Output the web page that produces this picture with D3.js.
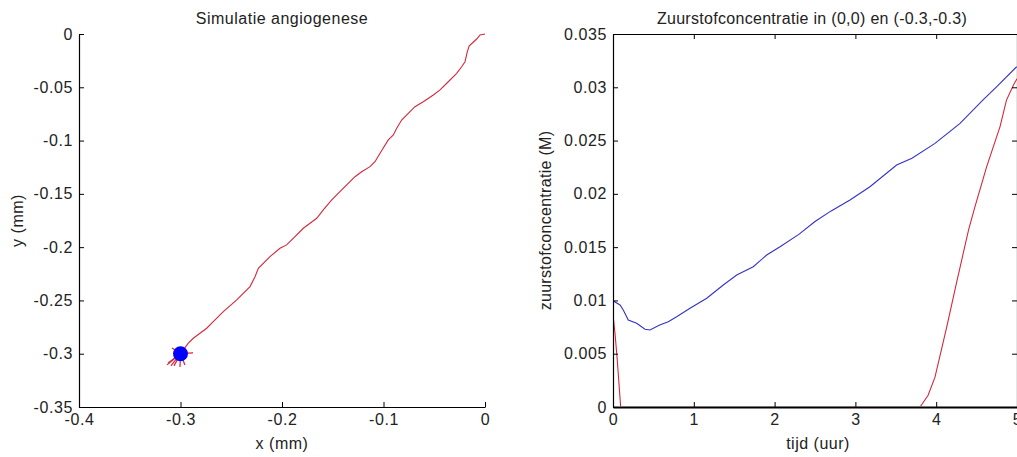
<!DOCTYPE html>
<html>
<head>
<meta charset="utf-8">
<script src="https://cdn.jsdelivr.net/npm/d3@7"></script>
<style>
  html, body { margin: 0; padding: 0; background: #fff; }
  svg { display: block; }
  text { font-family: "Liberation Sans", Arial, Helvetica, sans-serif; fill: #222; }
</style>
</head>
<body>
<svg id="chart" width="1017" height="457"></svg>
<script>
// ---- Left panel: vessel path (mm) ----
const vesselX = [0, -0.0049, -0.0082, -0.0155, -0.0174, -0.0197, -0.023, -0.0279, -0.0377, -0.0443,
  -0.0509, -0.0608, -0.069, -0.0756, -0.0821, -0.087, -0.0903, -0.0953, -0.1034, -0.1084,
  -0.1133, -0.1215, -0.1281, -0.133, -0.1412, -0.151, -0.1593, -0.1658, -0.1724, -0.179,
  -0.1872, -0.1954, -0.202, -0.2118, -0.2233, -0.2266, -0.2315, -0.2446, -0.2578, -0.2677,
  -0.2742, -0.2808, -0.2874, -0.2923, -0.2972, -0.3];
const vesselY = [0, -0.0009, -0.0047, -0.011, -0.0166, -0.026, -0.0307, -0.0369, -0.0462, -0.0525,
  -0.0572, -0.0635, -0.0682, -0.0744, -0.0807, -0.0885, -0.0947, -0.0994, -0.1119, -0.1198,
  -0.1245, -0.1292, -0.1339, -0.1386, -0.1463, -0.1557, -0.1651, -0.1729, -0.1776, -0.1823,
  -0.1901, -0.1979, -0.201, -0.2089, -0.2198, -0.2277, -0.237, -0.2495, -0.2605, -0.2699,
  -0.2761, -0.2808, -0.2855, -0.2901, -0.2964, -0.3];
// small sprouts around the tumour centre
const tumourX = -0.3, tumourY = -0.3;
const sproutTipX = [-0.3133, -0.3123, -0.3094, -0.3064, -0.3005, -0.2956, -0.2877, -0.3084];
const sproutTipY = [-0.3105, -0.3086, -0.3114, -0.3114, -0.3124, -0.3105, -0.2992, -0.2946];
const leftXTicks = [-0.4, -0.3, -0.2, -0.1, 0];
const leftXTickLabels = ["-0.4", "-0.3", "-0.2", "-0.1", "0"];
const leftYTicks = [0, -0.05, -0.1, -0.15, -0.2, -0.25, -0.3, -0.35];
const leftYTickLabels = ["0", "-0.05", "-0.1", "-0.15", "-0.2", "-0.25", "-0.3", "-0.35"];

// ---- Right panel: oxygen concentration over time ----
const timeA = [0.004, 0.087, 0.127, 0.189, 0.293, 0.396, 0.458, 0.578, 0.684, 0.788, 0.953, 1.16,
  1.365, 1.531, 1.736, 1.902, 2.067, 2.3, 2.5, 2.7, 2.933, 3.18, 3.51, 3.70, 3.985, 4.295, 4.58, 4.75, 4.996];
const concA = [0.00995, 0.00957, 0.0091, 0.00816, 0.00785, 0.00729, 0.00723, 0.00769, 0.0080, 0.00847,
  0.00926, 0.0102, 0.01145, 0.01239, 0.01316, 0.01426, 0.01504, 0.0162, 0.0174, 0.0184, 0.01942,
  0.02067, 0.0227, 0.02334, 0.02474, 0.02662, 0.02881, 0.03006, 0.03193];
const timeB = [0, 0.025, 0.053, 0.095, 3.80, 3.90, 3.985, 4.13, 4.25, 4.40, 4.48, 4.625, 4.79, 4.87, 4.955, 5.0];
const concB = [0.00863, 0.0069, 0.0044, 0, 0, 0.0011, 0.0028, 0.0075, 0.0116, 0.0166, 0.0188, 0.02255,
  0.0263, 0.0288, 0.0302, 0.0308];
const rightXTicks = [0, 1, 2, 3, 4, 5];
const rightXTickLabels = ["0", "1", "2", "3", "4", "5"];
const rightYTicks = [0, 0.005, 0.01, 0.015, 0.02, 0.025, 0.03, 0.035];
const rightYTickLabels = ["0", "0.005", "0.01", "0.015", "0.02", "0.025", "0.03", "0.035"];

const svg = d3.select("#chart");
const FONT = 16;
const RED = "#d2283c", BLUE = "#3232c8";

function labelledAxis(axis, ticks, labels) {
  return axis.tickValues(ticks).tickFormat((d, i) => labels[i]);
}
function styleAxis(g) {
  g.selectAll("path.domain").attr("stroke", "#000").attr("stroke-width", 1.2);
  g.selectAll(".tick line").attr("stroke", "#000");
  g.selectAll(".tick text").attr("font-size", FONT).style("letter-spacing", "0.6px").attr("fill", "#222");
}

// ===== Left panel =====
const L = { left: 79, right: 485, top: 34, bottom: 407 };
const xL = d3.scaleLinear().domain([-0.4, 0]).range([L.left, L.right]);
const yL = d3.scaleLinear().domain([-0.35, 0]).range([L.bottom, L.top]);

const gLx = svg.append("g").attr("transform", `translate(0,${L.bottom})`)
  .call(labelledAxis(d3.axisBottom(xL), leftXTicks, leftXTickLabels).tickSizeInner(-5).tickSizeOuter(0).tickPadding(7));
styleAxis(gLx);
const gLy = svg.append("g").attr("transform", `translate(${L.left},0)`)
  .call(labelledAxis(d3.axisLeft(yL), leftYTicks, leftYTickLabels).tickSizeInner(-5).tickSizeOuter(0).tickPadding(6));
styleAxis(gLy);

const vessel = d3.range(vesselX.length).map(i => [vesselX[i], vesselY[i]]);
svg.append("path")
  .datum(vessel)
  .attr("fill", "none").attr("stroke", RED).attr("stroke-width", 1.1)
  .attr("d", d3.line().x(d => xL(d[0])).y(d => yL(d[1])));

svg.append("g").selectAll("line")
  .data(d3.range(sproutTipX.length))
  .join("line")
  .attr("x1", xL(tumourX)).attr("y1", yL(tumourY))
  .attr("x2", i => xL(sproutTipX[i])).attr("y2", i => yL(sproutTipY[i]))
  .attr("stroke", RED).attr("stroke-width", 1.2);

svg.append("circle")
  .attr("cx", xL(tumourX)).attr("cy", yL(tumourY)).attr("r", 7.5)
  .attr("fill", "#0000ff");

svg.append("text").attr("x", (L.left + L.right) / 2).attr("y", 24)
  .attr("text-anchor", "middle").attr("font-size", FONT).style("letter-spacing", "0.5px")
  .text("Simulatie angiogenese");
svg.append("text").attr("x", (L.left + L.right) / 2).attr("y", 449)
  .attr("text-anchor", "middle").attr("font-size", FONT).style("letter-spacing", "0.5px")
  .text("x (mm)");
svg.append("text")
  .attr("transform", `translate(23,${(L.top + L.bottom) / 2}) rotate(-90)`)
  .attr("text-anchor", "middle").attr("font-size", FONT).style("letter-spacing", "0.5px")
  .text("y (mm)");

// ===== Right panel =====
const R = { left: 613, right: 1017, top: 34, bottom: 407 };
const xR = d3.scaleLinear().domain([0, 5]).range([R.left, R.right]);
const yR = d3.scaleLinear().domain([0, 0.035]).range([R.bottom, R.top]);

// lines stay inside the plot box; the stretch at zero sits under the x axis
svg.append("clipPath").attr("id", "clipR")
  .append("rect").attr("x", R.left).attr("y", R.top - 2)
  .attr("width", R.right - R.left).attr("height", (R.bottom - 0.8) - (R.top - 2));

const pointsA = d3.range(timeA.length).map(i => [timeA[i], concA[i]]);
const pointsB = d3.range(timeB.length).map(i => [timeB[i], concB[i]]);
const lineR = d3.line().x(d => xR(d[0])).y(d => yR(d[1]));
const gLines = svg.append("g").attr("clip-path", "url(#clipR)");
gLines.append("path").datum(pointsA)
  .attr("fill", "none").attr("stroke", BLUE).attr("stroke-width", 1.1).attr("d", lineR);
gLines.append("path").datum(pointsB)
  .attr("fill", "none").attr("stroke", RED).attr("stroke-width", 1.1).attr("d", lineR);

const gRx = svg.append("g").attr("transform", `translate(0,${R.bottom})`)
  .call(labelledAxis(d3.axisBottom(xR), rightXTicks, rightXTickLabels).tickSizeInner(-5).tickSizeOuter(0).tickPadding(7));
styleAxis(gRx);
gRx.select("path.domain").attr("stroke-width", 1.8);
const gRxTop = svg.append("g").attr("transform", `translate(0,${R.top})`)
  .call(d3.axisTop(xR).tickValues(rightXTicks).tickFormat("").tickSizeInner(-5).tickSizeOuter(0));
styleAxis(gRxTop);
const gRy = svg.append("g").attr("transform", `translate(${R.left},0)`)
  .call(labelledAxis(d3.axisLeft(yR), rightYTicks, rightYTickLabels).tickSizeInner(-5).tickSizeOuter(0).tickPadding(6));
styleAxis(gRy);
const gRyRight = svg.append("g").attr("transform", `translate(${R.right},0)`)
  .call(d3.axisRight(yR).tickValues(rightYTicks).tickFormat("").tickSizeInner(-5).tickSizeOuter(0));
styleAxis(gRyRight);

svg.append("text").attr("x", (R.left + R.right) / 2 - 3).attr("y", 24)
  .attr("text-anchor", "middle").attr("font-size", FONT).style("letter-spacing", "0.3px")
  .text("Zuurstofconcentratie in (0,0) en (-0.3,-0.3)");
svg.append("text").attr("x", (R.left + R.right) / 2 + 3).attr("y", 449)
  .attr("text-anchor", "middle").attr("font-size", FONT).style("letter-spacing", "0.5px")
  .text("tijd (uur)");
svg.append("text")
  .attr("transform", `translate(551,${(R.top + R.bottom) / 2}) rotate(-90)`)
  .attr("text-anchor", "middle").attr("font-size", FONT).style("letter-spacing", "0.3px")
  .text("zuurstofconcentratie (M)");
</script>
</body>
</html>
